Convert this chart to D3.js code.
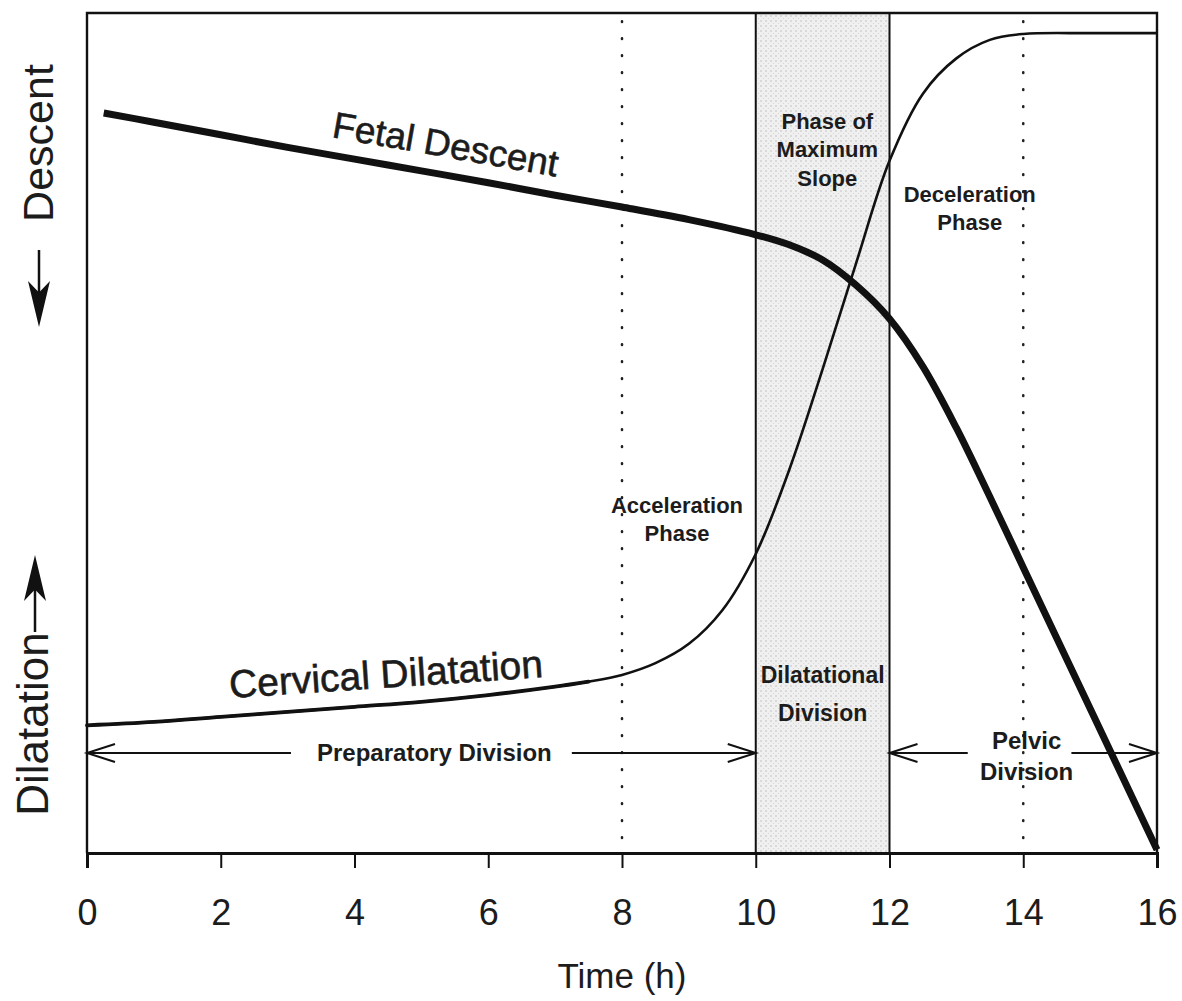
<!DOCTYPE html>
<html>
<head>
<meta charset="utf-8">
<script src="https://cdn.jsdelivr.net/npm/d3@7"></script>
<style>
  body { margin: 0; background: #fff; }
  text { font-family: "Liberation Sans", Arial, Helvetica, sans-serif; fill: #1c1c1c; }
</style>
</head>
<body>
<svg></svg>
<script>
// size of the page, the plot box is placed by hand to match the scan
const size = {w: 1182, h: 1001};
const box = {l: 87, r: 1157, t: 13, b: 853};

// time ticks (h)
const hourTicks = [0, 2, 4, 6, 8, 10, 12, 14, 16];

// cervical dilatation, relative height 0-100
const dilHours = [0, 1, 2, 3, 4, 5, 6, 7, 7.5, 8, 8.5, 9, 9.5, 10, 10.5, 11, 11.5, 12, 12.5, 13, 13.5, 14, 15, 16];
const dilValues = [15.2, 15.6, 16.2, 16.8, 17.4, 18.0, 18.8, 19.8, 20.4, 21.2, 22.6, 24.9, 28.9, 35.6, 45.6, 57.6, 70.2, 82.4, 90.4, 94.6, 96.8, 97.5, 97.6, 97.6];

// fetal descent, same relative scale
const descHours = [0.25, 1, 2, 3, 4, 5, 6, 7, 8, 9, 10, 10.5, 11, 11.5, 12, 12.5, 13, 13.5, 14, 15, 16];
const descValues = [88.1, 87.0, 85.5, 84.0, 82.6, 81.2, 79.8, 78.3, 76.9, 75.4, 73.6, 72.4, 70.6, 67.6, 63.6, 57.9, 50.6, 42.4, 34.0, 17.2, 0.4];

// divisions and phase boundaries
const dilatationalBand = [10, 12];
const dottedHours = [8, 14];

const svg = d3.select('svg')
    .attr('width', size.w)
    .attr('height', size.h);

const x = d3.scaleLinear().domain([0, 16]).range([box.l, box.r]);
const y = d3.scaleLinear().domain([0, 100]).range([box.b, box.t]);

// dotted texture for the shaded band
const defs = svg.append('defs');
const pat = defs.append('pattern')
    .attr('id', 'dots')
    .attr('width', 5).attr('height', 5)
    .attr('patternUnits', 'userSpaceOnUse');
pat.append('rect').attr('width', 5).attr('height', 5).attr('fill', '#f0f0f0');
pat.append('circle').attr('cx', 1).attr('cy', 1).attr('r', 0.8).attr('fill', '#bdbdbd');
pat.append('circle').attr('cx', 3.5).attr('cy', 3.5).attr('r', 0.6).attr('fill', '#d2d2d2');

svg.append('rect')
    .attr('x', x(dilatationalBand[0]))
    .attr('y', y(100))
    .attr('width', x(dilatationalBand[1]) - x(dilatationalBand[0]))
    .attr('height', y(0) - y(100))
    .attr('fill', 'url(#dots)');

// dotted guide lines at 8 and 14 h
svg.selectAll('line.dotted')
    .data(dottedHours)
    .enter()
    .append('line')
    .attr('x1', d => x(d)).attr('x2', d => x(d))
    .attr('y1', y(99)).attr('y2', y(0))
    .attr('stroke', '#222')
    .attr('stroke-width', 2.6)
    .attr('stroke-linecap', 'round')
    .attr('stroke-dasharray', '0.5 16.5');

// solid lines bounding the dilatational division
svg.selectAll('line.band')
    .data(dilatationalBand)
    .enter()
    .append('line')
    .attr('x1', d => x(d)).attr('x2', d => x(d))
    .attr('y1', y(100)).attr('y2', y(0))
    .attr('stroke', '#111')
    .attr('stroke-width', 2);

// frame: top, left, right
svg.append('path')
    .attr('d', `M${x(0)},${y(0)} L${x(0)},${y(100)} L${x(16)},${y(100)} L${x(16)},${y(0)}`)
    .attr('fill', 'none')
    .attr('stroke', '#111')
    .attr('stroke-width', 2.4);

// bottom axis
const axis = d3.axisBottom(x)
    .tickValues(hourTicks)
    .tickSize(15)
    .tickPadding(31)
    .tickFormat(d3.format('d'));

const axG = svg.append('g')
    .attr('transform', `translate(0,${y(0)})`)
    .call(axis);
axG.select('.domain').attr('stroke', '#111').attr('stroke-width', 3);
axG.selectAll('.tick line').attr('stroke', '#111').attr('stroke-width', 2);
axG.selectAll('.tick text')
    .style('font-size', '36px')
    .style('font-family', '"Liberation Sans", Arial, sans-serif')
    .attr('fill', '#2a2a2a');

svg.append('text')
    .attr('x', (x(0) + x(16)) / 2)
    .attr('y', 988)
    .attr('text-anchor', 'middle')
    .style('font-size', '35px')
    .attr('fill', '#2a2a2a')
    .text('Time (h)');

// curves
const line = d3.line()
    .x(d => x(d[0]))
    .y(d => y(d[1]))
    .curve(d3.curveCatmullRom.alpha(0.5));

const dilData = dilHours.map((h, i) => [h, dilValues[i]]);
const descData = descHours.map((h, i) => [h, descValues[i]]);

svg.append('path')
    .attr('d', line(dilData))
    .attr('fill', 'none')
    .attr('stroke', '#111')
    .attr('stroke-width', 2.6);

// left part of dilatation is drawn a bit heavier in the scan
svg.append('path')
    .attr('d', line(dilData.filter(d => d[0] <= 7.5)))
    .attr('fill', 'none')
    .attr('stroke', '#111')
    .attr('stroke-width', 3.8)
    .attr('stroke-linecap', 'round');

svg.append('path')
    .attr('d', line(descData))
    .attr('fill', 'none')
    .attr('stroke', '#111')
    .attr('stroke-width', 7)
    .attr('stroke-linejoin', 'round');

// curve names
svg.append('text')
    .attr('transform', 'translate(331,137) rotate(10)')
    .style('font-size', '37px')
    .attr('stroke', '#1c1c1c').attr('stroke-width', 0.6)
    .text('Fetal Descent');

svg.append('text')
    .attr('transform', 'translate(230,698) rotate(-3.8)')
    .style('font-size', '39px')
    .attr('stroke', '#1c1c1c').attr('stroke-width', 0.6)
    .text('Cervical Dilatation');

// phase labels, multi-line, centred
function label(lines, cx, cy, fs, gap) {
    const t = svg.append('text')
        .attr('text-anchor', 'middle')
        .style('font-size', fs + 'px')
        .style('font-weight', 'bold')
        .attr('fill', '#262626');
    lines.forEach((s, i) => {
        t.append('tspan')
            .attr('x', cx)
            .attr('y', cy + i * gap + fs * 0.36)
            .text(s);
    });
}

label(['Acceleration', 'Phase'], 677, 505, 22, 28);
label(['Phase of', 'Maximum', 'Slope'], x(11.07), 121, 22, 28.5);
label(['Deceleration', 'Phase'], x(13.2), 194, 22, 28);
label(['Dilatational', 'Division'], x(11), 675, 23, 38);
label(['Pelvic', 'Division'], x(14.05), 740, 24, 31);

// division arrows
const arrowY = 753;
function hArrow(h0, h1, tipAtEnd) {
    svg.append('line')
        .attr('x1', x(h0)).attr('x2', x(h1))
        .attr('y1', arrowY).attr('y2', arrowY)
        .attr('stroke', '#111').attr('stroke-width', 2);
    const tx = tipAtEnd ? x(h1) : x(h0);
    const back = tipAtEnd ? -28 : 28;
    svg.append('path')
        .attr('d', `M${tx + back},${arrowY - 9} L${tx},${arrowY} L${tx + back},${arrowY + 9}`)
        .attr('fill', 'none')
        .attr('stroke', '#111')
        .attr('stroke-width', 2);
}
hArrow(0, 3.05, false);
hArrow(7.25, 10, true);
hArrow(12, 13.17, false);
hArrow(14.72, 16, true);

svg.append('text')
    .attr('x', 317)
    .attr('y', 761)
    .style('font-size', '24px')
    .style('font-weight', 'bold')
    .attr('fill', '#262626')
    .text('Preparatory Division');

// vertical axis words with solid arrows
svg.append('text')
    .attr('transform', 'translate(53,143) rotate(-90)')
    .attr('text-anchor', 'middle')
    .style('font-size', '43px')
    .attr('fill', '#222')
    .text('Descent');

svg.append('text')
    .attr('transform', 'translate(48,724) rotate(-90)')
    .attr('text-anchor', 'middle')
    .style('font-size', '44px')
    .attr('fill', '#222')
    .text('Dilatation');

function vArrow(cx, yFrom, yTip) {
    const dir = yTip > yFrom ? 1 : -1;
    const headLen = 46 * dir;
    svg.append('line')
        .attr('x1', cx).attr('x2', cx)
        .attr('y1', yFrom).attr('y2', yTip - headLen * 0.7)
        .attr('stroke', '#111').attr('stroke-width', 2.5);
    svg.append('path')
        .attr('d', `M${cx},${yTip} L${cx - 11},${yTip - headLen} L${cx},${yTip - headLen * 0.75} L${cx + 11},${yTip - headLen} Z`)
        .attr('fill', '#111');
}
vArrow(39, 250, 327);
vArrow(35, 632, 555);
</script>
</body>
</html>
